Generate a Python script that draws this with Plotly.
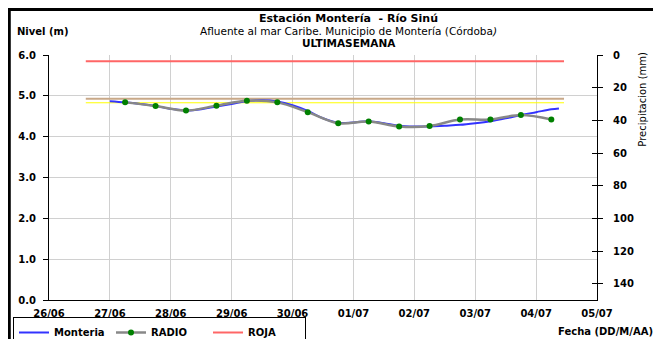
import plotly.graph_objects as go

# ---- data ----
monteria_time = [
    "2023-06-27 00:00", "2023-06-27 06:00", "2023-06-27 12:00", "2023-06-27 18:00",
    "2023-06-28 00:00", "2023-06-28 06:00", "2023-06-28 12:00", "2023-06-28 18:00",
    "2023-06-29 00:00", "2023-06-29 06:00", "2023-06-29 12:00", "2023-06-29 18:00",
    "2023-06-30 00:00", "2023-06-30 06:00", "2023-06-30 12:00", "2023-06-30 18:00",
    "2023-07-01 00:00", "2023-07-01 06:00", "2023-07-01 12:00", "2023-07-01 18:00",
    "2023-07-02 00:00", "2023-07-02 06:00", "2023-07-02 12:00", "2023-07-02 18:00",
    "2023-07-03 00:00", "2023-07-03 06:00", "2023-07-03 12:00", "2023-07-03 18:00",
    "2023-07-04 00:00", "2023-07-04 06:00", "2023-07-04 09:00",
]
monteria_level = [
    4.87, 4.84, 4.80, 4.75,
    4.68, 4.64, 4.67, 4.74,
    4.80, 4.87, 4.89, 4.86,
    4.77, 4.63, 4.45, 4.34,
    4.35, 4.38, 4.33, 4.27,
    4.25, 4.25, 4.27, 4.29,
    4.33, 4.38, 4.45, 4.53,
    4.60, 4.67, 4.69,
]
radio_time = [
    "2023-06-27 06:00", "2023-06-27 18:00", "2023-06-28 06:00", "2023-06-28 18:00",
    "2023-06-29 06:00", "2023-06-29 18:00", "2023-06-30 06:00", "2023-06-30 18:00",
    "2023-07-01 06:00", "2023-07-01 18:00", "2023-07-02 06:00", "2023-07-02 18:00",
    "2023-07-03 06:00", "2023-07-03 18:00", "2023-07-04 06:00",
]
radio_level = [4.84, 4.75, 4.64, 4.76, 4.88, 4.84, 4.60, 4.33,
               4.37, 4.25, 4.26, 4.42, 4.42, 4.53, 4.42]
threshold_time = ["2023-06-26 14:30", "2023-07-04 11:00"]
roja_level = 5.85
naranja_level = 4.93
amarilla_level = 4.83
precip_time = []
precip_mm = []

y_ticks = [0, 1, 2, 3, 4, 5, 6]
y_ticklabels = ["0.0", "1.0", "2.0", "3.0", "4.0", "5.0", "6.0"]
y2_ticks = [0, 20, 40, 60, 80, 100, 120, 140]
x_ticks = ["2023-06-26", "2023-06-27", "2023-06-28", "2023-06-29", "2023-06-30",
           "2023-07-01", "2023-07-02", "2023-07-03", "2023-07-04", "2023-07-05"]
x_ticklabels = ["26/06", "27/06", "28/06", "29/06", "30/06",
                "01/07", "02/07", "03/07", "04/07", "05/07"]

FONT = "DejaVu Sans, Arial, sans-serif"

fig = go.Figure()
fig.add_trace(go.Scatter(x=threshold_time, y=[naranja_level] * 2, mode="lines",
                         line=dict(color="#c8a888", width=2), showlegend=False, hoverinfo="skip"))
fig.add_trace(go.Scatter(x=threshold_time, y=[amarilla_level] * 2, mode="lines",
                         line=dict(color="#ffff00", width=1), showlegend=False, hoverinfo="skip"))
fig.add_trace(go.Scatter(x=monteria_time, y=monteria_level, mode="lines", name="<b>Monteria</b>",
                         line=dict(color="#3333ff", width=2, shape="spline")))
fig.add_trace(go.Scatter(x=radio_time, y=radio_level, mode="lines+markers", name="<b>RADIO</b>",
                         line=dict(color="#888888", width=2.5, shape="spline"),
                         marker=dict(color="#008000", size=6)))
fig.add_trace(go.Scatter(x=threshold_time, y=[roja_level] * 2, mode="lines", name="<b>ROJA</b>",
                         line=dict(color="#ff6666", width=2)))
fig.add_trace(go.Scatter(x=precip_time, y=precip_mm, yaxis="y2", showlegend=False,
                         marker=dict(color="#000000")))
fig.add_trace(go.Scatter(x=precip_time, y=precip_mm, yaxis="y3", showlegend=False,
                         marker=dict(color="#000000")))

# page body has an 8px margin: plot area sits at x 49..597, y 55..300 of the page
fig.update_layout(
    width=653, height=331,
    margin=dict(l=41, r=64, t=47, b=39, autoexpand=False),
    paper_bgcolor="white", plot_bgcolor="white",
    font=dict(family=FONT, size=10, color="black"),
    showlegend=True,
    legend=dict(orientation="h", xref="container", yref="container",
                x=5 / 653, y=1 - 309 / 331, xanchor="left", yanchor="top",
                bordercolor="black", borderwidth=1, bgcolor="white",
                font=dict(size=10, family=FONT), entrywidth=52, entrywidthmode="pixels",
                itemwidth=30, tracegroupgap=0),
    xaxis=dict(type="date", range=["2023-06-26", "2023-07-05"],
               tickvals=x_ticks, ticktext=["<b>%s</b>" % t for t in x_ticklabels],
               showgrid=True, gridcolor="#d0d0d0", gridwidth=1,
               ticks="", ticklabelstandoff=4,
               showline=True, linecolor="black", linewidth=1,
               tickfont=dict(size=10), zeroline=False),
    yaxis=dict(range=[0, 6], tickvals=y_ticks,
               ticktext=["<b>%s</b>" % t for t in y_ticklabels],
               showgrid=True, gridcolor="#d0d0d0", gridwidth=1,
               ticks="outside", ticklen=5, tickcolor="black",
               showline=True, linecolor="black", linewidth=1,
               ticklabelstandoff=5,
               tickfont=dict(size=10), zeroline=False),
    yaxis2=dict(range=[150, 0], overlaying="y", side="right", tickvals=y2_ticks,
                ticktext=["<b>%d</b>" % t for t in y2_ticks],
                showgrid=False, ticks="outside", ticklen=5, tickcolor="black",
                showline=True, linecolor="black", linewidth=1,
                ticklabelstandoff=8,
                tickfont=dict(size=10), zeroline=False),
    yaxis3=dict(range=[150, 0], overlaying="y", side="right", tickvals=y2_ticks,
                showticklabels=False, showgrid=False, ticks="inside", ticklen=5,
                tickcolor="black", showline=False, zeroline=False),
    annotations=[
        dict(text="<b>Estación Montería  - Río Sinú</b>", xref="paper", yref="paper",
             x=0.547, y=1.147, xanchor="center", yanchor="middle", showarrow=False,
             font=dict(size=11)),
        dict(text="Afluente al mar Caribe. Municipio de Montería (Córdoba<i>)</i>", xref="paper", yref="paper",
             x=0.547, y=1.098, xanchor="center", yanchor="middle", showarrow=False,
             font=dict(size=10.5)),
        dict(text="<b>ULTIMASEMANA</b>", xref="paper", yref="paper",
             x=0.547, y=1.049, xanchor="center", yanchor="middle", showarrow=False,
             font=dict(size=10.5)),
        dict(text="<b>Nivel (m)</b>", xref="paper", yref="paper",
             x=-0.062, y=1.094, xanchor="left", yanchor="middle", showarrow=False,
             font=dict(size=10)),
        dict(text="<b>Fecha (DD/M/AA)</b>", xref="paper", yref="paper",
             x=1.106, y=-0.127, xanchor="right", yanchor="middle", showarrow=False,
             font=dict(size=10)),
        dict(text="Precipitacion (mm)", xref="paper", yref="paper", textangle=-90,
             x=1.084, y=1.02, xanchor="center", yanchor="top", showarrow=False,
             font=dict(size=10)),
    ],
    shapes=[
        dict(type="rect", xref="paper", yref="paper",
             x0=-0.0725, x1=1.119, y0=-0.184, y1=1.186,
             line=dict(color="black", width=3)),
    ],
)

fig.write_html("out.html")
